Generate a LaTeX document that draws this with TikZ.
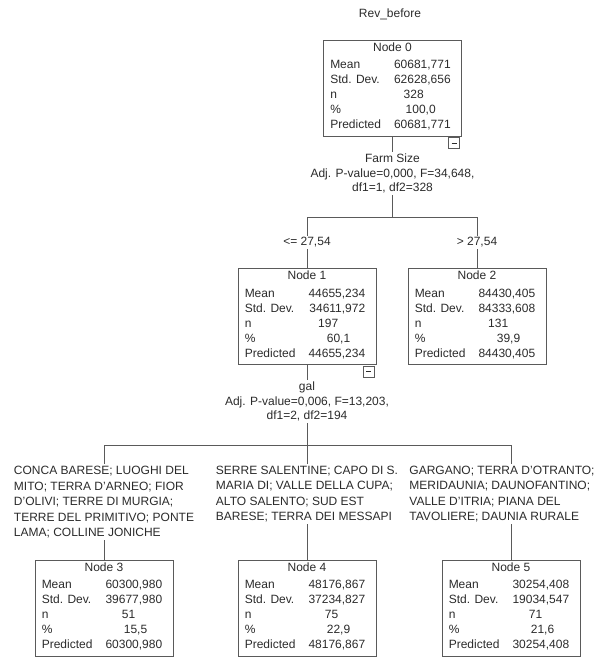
\documentclass[tikz,border=0pt]{standalone}
\usepackage{fontspec}
\setmainfont{Liberation Sans}
\definecolor{lineGray}{HTML}{5a5a5a}
\definecolor{textGray}{HTML}{2b2b2b}
\tikzset{
  every node/.style={text=textGray,font=\fontsize{12}{15.5}\selectfont},
  stat box/.style={draw=lineGray,line width=0.9pt,minimum width=138pt,minimum height=96pt,inner sep=0pt},
  stat cell/.style={inner sep=0pt,text height=8.6pt,text depth=0pt},
  minus box/.style={draw=lineGray,line width=0.7pt,minimum size=11pt,inner sep=0pt,anchor=north east},
  split label/.style={align=center,fill=white,inner sep=2pt,font=\fontsize{12}{14.5}\selectfont},
  edge label/.style={fill=white,inner sep=1.5pt},
  cat label/.style={align=left,fill=white,inner sep=2pt},
  tree edge/.style={draw=lineGray,line width=0.9pt},
}
% box of one tree node: name, position, title, mean, std. dev., n, %, predicted
\newcommand{\statnode}[8]{%
  \node[stat box] (#1) at (#2) {};
  \path (#1.north) ++(0,-7.5) node[stat cell] {#3};
  \path (#1.north west) ++(7,-25) node[stat cell,anchor=west] {Mean}
        ++(0,-15) node[stat cell,anchor=west] {Std. Dev.}
        ++(0,-15) node[stat cell,anchor=west] {n}
        ++(0,-15) node[stat cell,anchor=west] {\%}
        ++(0,-15) node[stat cell,anchor=west] {Predicted};
  \path (#1.north east) ++(-11,-25) node[stat cell,anchor=east] {#4}
        ++(0,-15) node[stat cell,anchor=east] {#5}
        ++(-27,-15) node[stat cell,anchor=east] {#6}
        ++(12,-15) node[stat cell,anchor=east] {#7}
        ++(15,-15) node[stat cell,anchor=east] {#8};
}

\begin{document}
\begin{tikzpicture}[x=1pt,y=1pt]
   \useasboundingbox (0,0) rectangle (601,-657);

   % NODES
   \node (title) at (390,-14) {Rev\_before};
   \statnode{n0}{392.5,-88}{Node 0}{60681,771}{62628,656}{328}{100,0}{60681,771} % root
   \statnode{n1}{307,-316.5}{Node 1}{44655,234}{34611,972}{197}{60,1}{44655,234}
   \statnode{n2}{477,-316.5}{Node 2}{84430,405}{84333,608}{131}{39,9}{84430,405} % leaf
   \statnode{n3}{104,-608}{Node 3}{60300,980}{39677,980}{51}{15,5}{60300,980} % leaf
   \statnode{n4}{307,-608}{Node 4}{48176,867}{37234,827}{75}{22,9}{48176,867} % leaf
   \statnode{n5}{511,-608}{Node 5}{30254,408}{19034,547}{71}{21,6}{30254,408} % leaf
   \node[minus box] (n0m) at ([xshift=-2pt,yshift=-1pt]n0.south east) {\rule{5pt}{0.7pt}};
   \node[minus box] (n1m) at ([xshift=-2pt,yshift=-1pt]n1.south east) {\rule{5pt}{0.7pt}};

   % SPLITS
   \node[split label] (s0) at (392.5,-173.5) {Farm Size\\Adj. P-value=0,000, F=34,648,\\df1=1, df2=328};
   \node[split label] (s1) at (307,-401.5) {gal\\Adj. P-value=0,006, F=13,203,\\df1=2, df2=194};
   \coordinate (j0) at (392.5,-217);
   \coordinate (j1) at (307,-217);
   \coordinate (j2) at (477,-217);
   \coordinate (j3) at (307,-445);
   \coordinate (j4) at (104,-445);
   \coordinate (j5) at (511,-445);

   % DRAW TREE
   \path[tree edge] (n0)--(s0);
   \path[tree edge] (s0)--(j0);
   \path[tree edge] (j1)--(j2);
   \path[tree edge] (j1)-- node[edge label] {<= 27,54} (n1);
   \path[tree edge] (j2)-- node[edge label] {> 27,54} (n2);

   \path[tree edge] (n1)--(s1);
   \path[tree edge] (s1)--(j3);
   \path[tree edge] (j4)--(j5);
   \path[tree edge] (j4)-- node[cat label,pos=0.5] (c3) {CONCA BARESE; LUOGHI DEL\\MITO; TERRA D'ARNEO; FIOR\\D'OLIVI; TERRE DI MURGIA;\\TERRE DEL PRIMITIVO; PONTE\\LAMA; COLLINE JONICHE} (n3);
   \path[tree edge] (j3)-- node[cat label,pos=0.43] (c4) {SERRE SALENTINE; CAPO DI S.\\MARIA DI; VALLE DELLA CUPA;\\ALTO SALENTO; SUD EST\\BARESE; TERRA DEI MESSAPI} (n4);
   \path[tree edge] (j5)-- node[cat label,pos=0.43,xshift=-9pt] (c5) {GARGANO; TERRA D'OTRANTO;\\MERIDAUNIA; DAUNOFANTINO;\\VALLE D'ITRIA; PIANA DEL\\TAVOLIERE; DAUNIA RURALE} (n5);

\end{tikzpicture}
\end{document}
